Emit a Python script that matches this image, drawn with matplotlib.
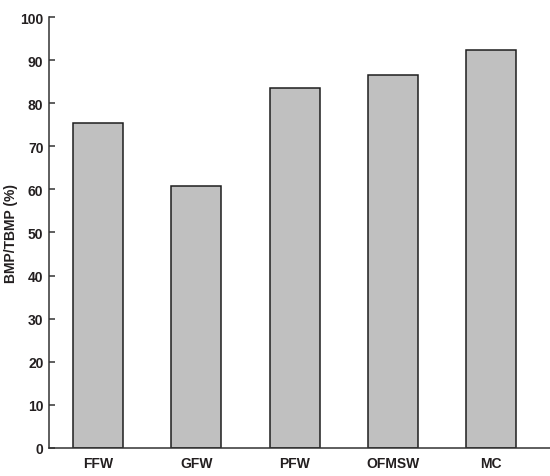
import matplotlib.pyplot as plt

categories = ["FFW", "GFW", "PFW", "OFMSW", "MC"]
values = [75.4, 60.8, 83.6, 86.6, 92.4]
yticks = [0, 10, 20, 30, 40, 50, 60, 70, 80, 90, 100]

plt.rcParams['font.family'] = ['Liberation Sans', 'DejaVu Sans']
plt.rcParams['font.weight'] = 'bold'

fig = plt.figure(figsize=(5.5, 4.77), dpi=100)
ax = fig.add_axes([0.089, 0.059, 0.911, 0.903])

x = range(len(categories))
ax.bar(x, values, width=0.51, color="#c0c0c0", edgecolor="#1e1e1e", linewidth=1.1)

ax.set_xlim(-0.5, 4.6)
ax.set_ylim(0, 100)
ax.set_yticks(yticks)
ax.set_xticks(list(x))
ax.set_xticklabels(categories)

for s in ["top", "right"]:
    ax.spines[s].set_visible(False)
for s in ["left", "bottom"]:
    ax.spines[s].set_color("#333333")
    ax.spines[s].set_linewidth(1.1)

ax.tick_params(axis="y", direction="in", length=4, width=1.1, color="#333333",
               labelsize=10, labelcolor="#231f20", pad=4)
ax.tick_params(axis="x", length=0, labelsize=10, labelcolor="#231f20", pad=6)

ax.set_ylabel("BMP/TBMP (%)", fontsize=10, fontweight="bold", color="#231f20")
ax.yaxis.set_label_coords(-0.062, 0.5)

fig.savefig("out.png", dpi=100)
